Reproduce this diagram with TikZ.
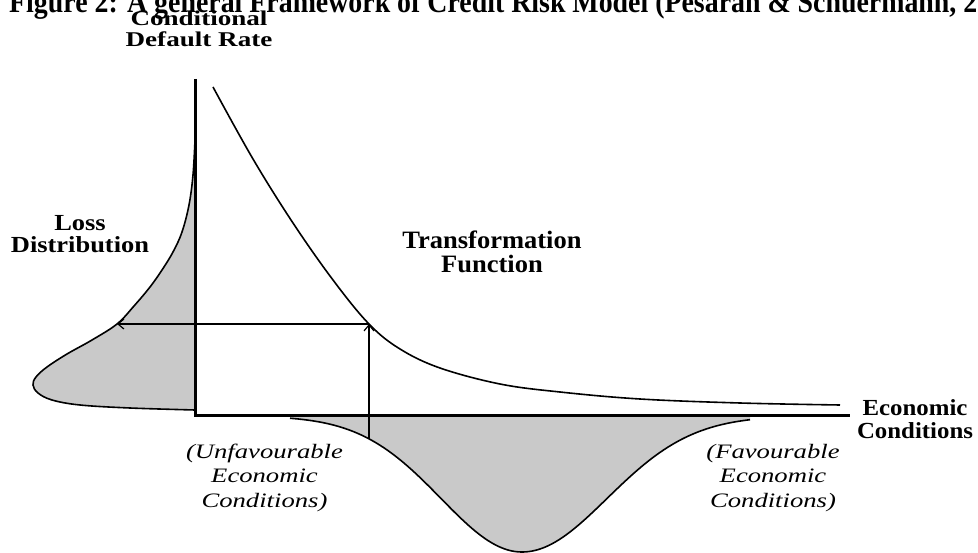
\documentclass[tikz,border=0pt]{standalone}
\usepackage{fontspec}
\setmainfont{Liberation Serif}
\usetikzlibrary{arrows.meta}
\definecolor{shadegray}{RGB}{201,201,201}
\newcommand\mylbl[2]{\scalebox{#1}[1]{\begin{tabular}{@{}c@{}}#2\end{tabular}}}
\begin{document}
\begin{tikzpicture}[x=1pt,y=-1pt,
  axisline/.style={line width=3pt, line join=miter},
  curveline/.style={line width=1.6pt},
  fillshape/.style={fill=shadegray, draw=none},
  arrline/.style={line width=1.3pt, -{Straight Barb[length=6pt,width=10pt,line width=1.2pt]}},
  lab/.style={inner sep=0pt, anchor=north, align=center}]
\useasboundingbox (0,0) rectangle (978,553);
\clip (0,0) rectangle (978,553);
\fill[white] (0,0) rectangle (978,553);

% key points
\coordinate (P) at (369,324);
\coordinate (L) at (117,324);
\coordinate (B) at (369,439);

% loss distribution (left)
\def\losspts{(195,140) (193,175) (189,205) (182,232) (173,252) (162,270) (150,287) (134,306) (117,324) (92,340) (67,354) (47,367) (36,377) (33,385) (38,393) (52,400) (80,405) (130,408) (195,410)}
\fill[fillshape] plot[smooth, tension=0.6] coordinates {\losspts} -- cycle;
\draw[curveline] plot[smooth, tension=0.6] coordinates {\losspts};

% economic conditions distribution (bottom)
\fill[fillshape] (290,416)
  -- plot[domain=290:522, samples=70] (\x, {416+136*exp(-((\x-522)/81)^2/2)})
  -- plot[domain=522:750, samples=70] (\x, {416+136*exp(-((\x-522)/85)^2/2)})
  -- (750,416) -- cycle;
\draw[curveline] plot[domain=290:522, samples=70] (\x, {416+136*exp(-((\x-522)/81)^2/2)})
  -- plot[domain=522:750, samples=70] (\x, {416+136*exp(-((\x-522)/85)^2/2)});

% transformation function
\draw[curveline] plot[smooth, tension=0.6] coordinates {(213,87) (253,159) (293,223) (333,280) (369,324) (400,349) (440,368) (500,384) (560,392) (640,399) (740,403) (840,405)};

% axes
\draw[axisline] (195,79) -- (195,416) -- (850,416);

% arrows
\draw[arrline] (B) -- (P);
\draw[arrline] (P) -- (L);

% labels
\node[inner sep=0pt, anchor=base west] (title) at (9,13) {\resizebox{968pt}{22pt}{\bfseries Figure 2: A general Framework of Credit Risk Model (Pesaran \& Schuermann, 2}};
\node[lab, font=\fontsize{21}{21}\selectfont\bfseries] (cdr) at (199,10.3) {\mylbl{1.29}{Conditional\\Default Rate}};
\node[lab, font=\fontsize{23}{22}\selectfont\bfseries] (loss) at (80,214.6) {\mylbl{1.15}{Loss\\Distribution}};
\node[lab, font=\fontsize{25}{23}\selectfont\bfseries] (trans) at (492,230.9) {\mylbl{1.06}{Transformation\\Function}};
\node[lab, font=\fontsize{23}{22}\selectfont\bfseries] (econ) at (915,399.6) {\mylbl{1.08}{Economic\\Conditions}};
\node[lab, font=\fontsize{20.5}{24.5}\selectfont\itshape] (unfav) at (264.5,440.9) {\mylbl{1.3}{(Unfavourable\\Economic\\Conditions)}};
\node[lab, font=\fontsize{20.5}{24.5}\selectfont\itshape] (fav) at (773,440.9) {\mylbl{1.3}{(Favourable\\Economic\\Conditions)}};
\end{tikzpicture}
\end{document}
